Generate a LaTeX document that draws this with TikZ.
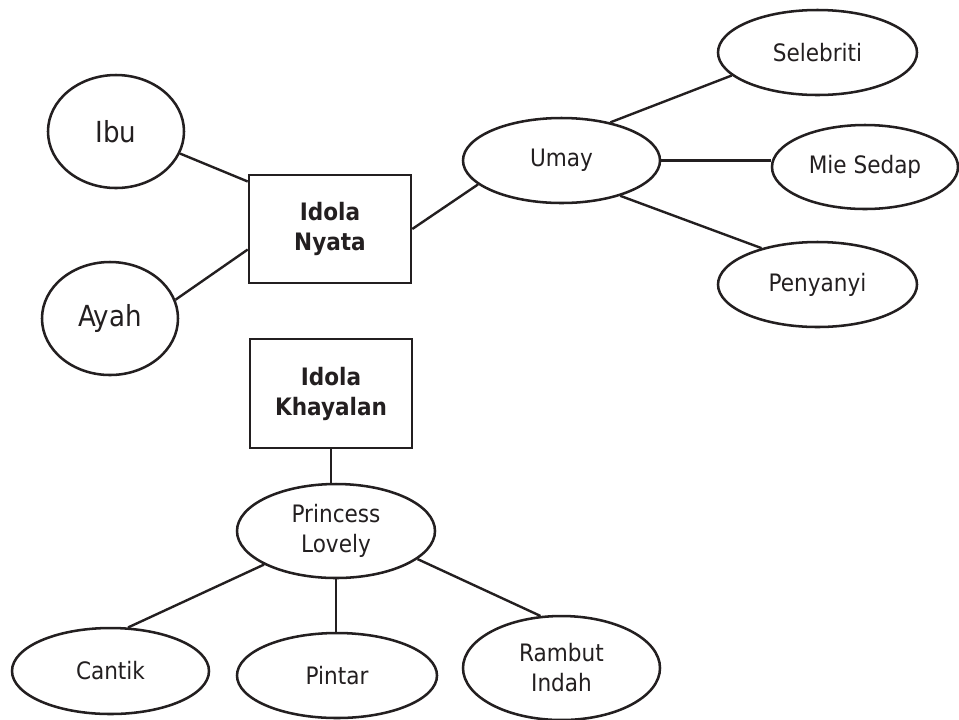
\documentclass[tikz,border=0pt]{standalone}
\usepackage{fontspec}
\setmainfont{DejaVu Sans Condensed}
\usetikzlibrary{shapes.geometric}
\definecolor{ink}{HTML}{231F20}
\tikzset{
  oval/.style={ellipse, draw=ink, line width=1.9pt, inner sep=0pt, text=ink,
    font=\fontsize{18pt}{22.5pt}\selectfont, align=center},
  bigoval/.style={oval, font=\fontsize{21.75pt}{26pt}\selectfont},
  idbox/.style={rectangle, draw=ink, line width=1.9pt, inner sep=0pt, text=ink,
    font=\fontsize{18pt}{22.5pt}\selectfont\bfseries, align=center,
    minimum width=162*0.75pt, minimum height=108*0.75pt},
  link/.style={draw=ink, line width=1.8pt},
  thicklink/.style={draw=ink, line width=2.4pt}
}
\begin{document}
\begin{tikzpicture}[x=0.75pt, y=-0.75pt]
\useasboundingbox (0,0) rectangle (959,719);
% nodes
\node[bigoval, minimum width=136*0.75pt, minimum height=113*0.75pt] (ibu) at (116,131.5) {Ibu};
\node[bigoval, minimum width=136*0.75pt, minimum height=113*0.75pt] (ayah) at (110,318.5) {Ayah};
\node[idbox] (nyata) at (330,229) {Idola\\Nyata};
\node[oval, minimum width=197*0.75pt, minimum height=85*0.75pt] (umay) at (561.5,160.5) {Umay};
\node[oval, minimum width=199*0.75pt, minimum height=85*0.75pt] (seleb) at (817.5,52.5) {Selebriti};
\node[oval, minimum width=186*0.75pt, minimum height=84*0.75pt] (mie) at (865,167) {Mie Sedap};
\node[oval, minimum width=199*0.75pt, minimum height=85*0.75pt] (peny) at (817.5,284.5) {Penyanyi};
\node[idbox, minimum height=109*0.75pt] (khay) at (331,393.5) {Idola\\Khayalan};
\node[oval, minimum width=198*0.75pt, minimum height=94*0.75pt] (princess) at (336,531) {Princess\\Lovely};
\node[oval, minimum width=197*0.75pt, minimum height=86*0.75pt] (cantik) at (110.5,671) {Cantik};
\node[oval, minimum width=200*0.75pt, minimum height=85*0.75pt] (pintar) at (337,675.5) {Pintar};
\node[oval, minimum width=197*0.75pt, minimum height=104*0.75pt] (rambut) at (561.5,668) {Rambut\\Indah};
% connectors
\draw[link] (ibu.-19) -- (nyata.150.4);
\draw[link] (ayah.16) -- (nyata.194);
\draw[link] (nyata.east) -- (umay.196);
\draw[link] (umay.38) -- (seleb.195);
\draw[thicklink] (umay.east) -- (umay.east -| mie.west);
\draw[link] (umay.-31) -- (peny.147);
\draw[link] (khay.south) -- (khay.south |- princess.north);
\draw[link] (princess.205.6) -- (cantik.68.3);
\draw[link] (princess.south) -- (princess.south |- pintar.north);
\draw[link] (princess.-19.9) -- (rambut.112.5);
\end{tikzpicture}
\end{document}
